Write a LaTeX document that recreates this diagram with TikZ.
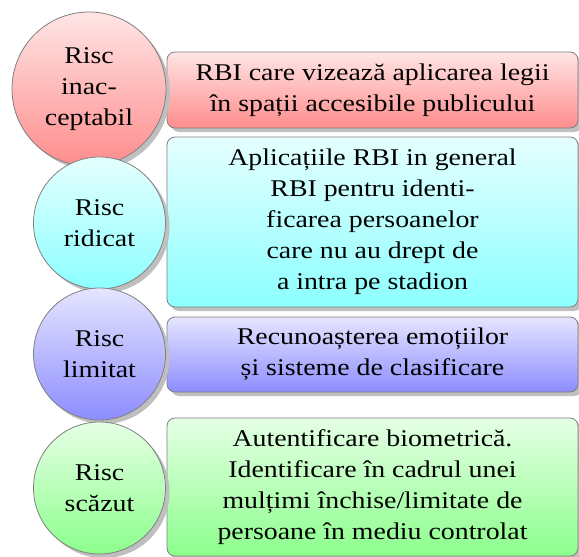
\documentclass[tikz,border=0pt]{standalone}
\usepackage{fontspec}
\setmainfont[FakeStretch=1.16]{Liberation Serif}
\usetikzlibrary{shadows}

\begin{document}
\begin{tikzpicture}[x=0.5pt, y=-0.5pt,
    txt/.style={align=center, font=\fontsize{12}{15.5}\selectfont},
    shade/.style={drop shadow={shadow xshift=2pt, shadow yshift=-2pt,
        fill=black!25, opacity=1}},
    risk/.style={circle, draw=black!50, inner sep=0pt, minimum size=66pt,
        txt, shade, top color=#1!10, bottom color=#1!45},
    usecase/.style={rectangle, rounded corners=4pt, draw=black!50,
        inner sep=0pt, minimum width=205.5pt, txt, shade,
        top color=#1!10, bottom color=#1!45}]

  \useasboundingbox (0,0) rectangle (579,557);

  % the use cases
  \node[usecase=red, minimum height=38pt] (UA) at (372.5,90)
    {RBI care vizează aplicarea legii\\ în spații accesibile publicului};
  \node[usecase=cyan, minimum height=85pt] (UR) at (372.5,222)
    {Aplicațiile RBI in general\\ RBI pentru identi-\\ ficarea persoanelor\\
     care nu au drept de\\ a intra pe stadion};
  \node[usecase=blue, minimum height=37.5pt] (UL) at (372.5,354.5)
    {Recunoașterea emoțiilor\\ și sisteme de clasificare};
  \node[usecase=green, minimum height=69pt] (US) at (372.5,487)
    {Autentificare biometrică.\\ Identificare în cadrul unei\\
     mulțimi închise/limitate de\\ persoane în mediu controlat};

  % the risk levels
  \node[risk=red, minimum size=77pt] (RA) at (89,89) {Risc\\ inac-\\ ceptabil};
  \node[risk=cyan] (RR) at (99.5,223) {Risc\\ ridicat};
  \node[risk=blue] (RL) at (99.5,354) {Risc\\ limitat};
  \node[risk=green] (RS) at (99.5,488) {Risc\\ scăzut};
\end{tikzpicture}
\end{document}
